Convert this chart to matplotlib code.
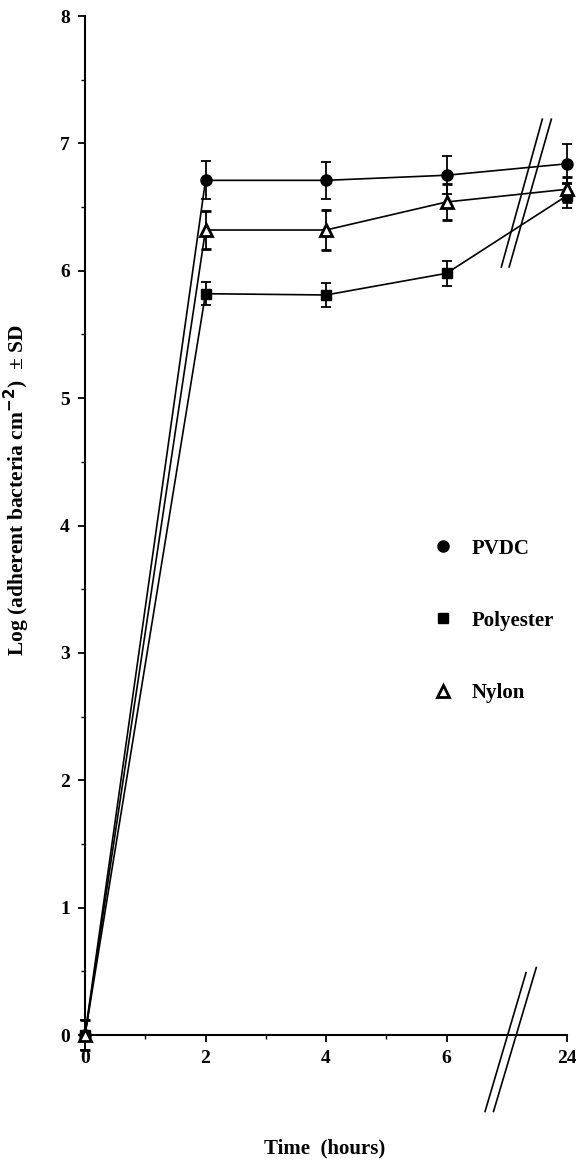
import matplotlib.pyplot as plt
from matplotlib.lines import Line2D

# posicao no eixo (o ultimo ponto e 24 h, desenhado depois da quebra)
tempo_pos = [0, 2, 4, 6, 8]
tempo_rotulos = ["0", "2", "4", "6", "24"]

pvdc = [0.0, 6.71, 6.71, 6.75, 6.84]
pvdc_sd = [0.12, 0.15, 0.145, 0.15, 0.155]

poliester = [0.0, 5.82, 5.81, 5.98, 6.59]
poliester_sd = [0.12, 0.09, 0.095, 0.10, 0.10]

nylon = [0.0, 6.32, 6.32, 6.54, 6.64]
nylon_sd = [0.12, 0.15, 0.16, 0.14, 0.10]

fonte = {"family": "Liberation Serif", "weight": "bold"}

fig = plt.figure(figsize=(5.76, 11.61), dpi=100)
ax = fig.add_axes([0.1476, 0.1085, 0.8368, 0.8777])

estilo_barra = dict(color="black", lw=1.2, elinewidth=1.3, capsize=3.5, capthick=1.3, clip_on=False, zorder=3)
ax.errorbar(tempo_pos, pvdc, yerr=pvdc_sd, marker="o", ms=8, mfc="black", mec="black", **estilo_barra)
ax.errorbar(tempo_pos, poliester, yerr=poliester_sd, marker="s", ms=7.5, mfc="black", mec="black", **estilo_barra)
ax.errorbar(tempo_pos, nylon, yerr=nylon_sd, marker="^", ms=9, mfc="white", mec="black", mew=2, **estilo_barra)

ax.set_xlim(0, 8)
ax.set_ylim(0, 8)
ax.spines["top"].set_visible(False)
ax.spines["right"].set_visible(False)
ax.spines["left"].set_linewidth(1.5)
ax.spines["bottom"].set_linewidth(1.5)

ax.set_xticks(tempo_pos)
ax.set_xticklabels(tempo_rotulos, fontdict=fonte, fontsize=14)
ax.set_xticks([1, 3, 5], minor=True)
ax.set_yticks(range(0, 9))
ax.set_yticklabels([str(i) for i in range(0, 9)], fontdict=fonte, fontsize=14)
ax.set_yticks([i + 0.5 for i in range(0, 8)], minor=True)
ax.tick_params(which="major", direction="out", length=5, width=1.3, pad=6)
ax.tick_params(which="minor", direction="out", length=3, width=1.0)

# marcas de quebra do eixo
quebras = [
	([6.64, 7.32], [-0.60, 0.49]),
	([6.78, 7.49], [-0.60, 0.53]),
	([6.91, 7.59], [6.03, 7.19]),
	([7.04, 7.74], [6.03, 7.19]),
]
for xs, ys in quebras:
	ax.plot(xs, ys, color="black", lw=1.2, clip_on=False, zorder=4)

fig.text(0.03, 0.578, "Log (adherent bacteria cm$^{\\mathbf{-2}}$)  \u00b1 SD", rotation=90,
	ha="center", va="center", fontsize=15.5, **fonte)
fig.text(0.564, 0.0105, "Time  (hours)", ha="center", va="center", fontsize=15, **fonte)

itens = [
	Line2D([], [], ls="none", marker="o", ms=8, mfc="black", mec="black"),
	Line2D([], [], ls="none", marker="s", ms=7.5, mfc="black", mec="black"),
	Line2D([], [], ls="none", marker="^", ms=9, mfc="white", mec="black", mew=2),
]
ax.legend(itens, ["PVDC", "Polyester", "Nylon"], loc="upper left",
	bbox_to_anchor=(0.737, 0.545), bbox_transform=fig.transFigure,
	frameon=False, borderpad=0, handlelength=0.8, handletextpad=0.95,
	labelspacing=2.5, prop={"family": "Liberation Serif", "weight": "bold", "size": 15})

fig.savefig("out.png", dpi=100)
